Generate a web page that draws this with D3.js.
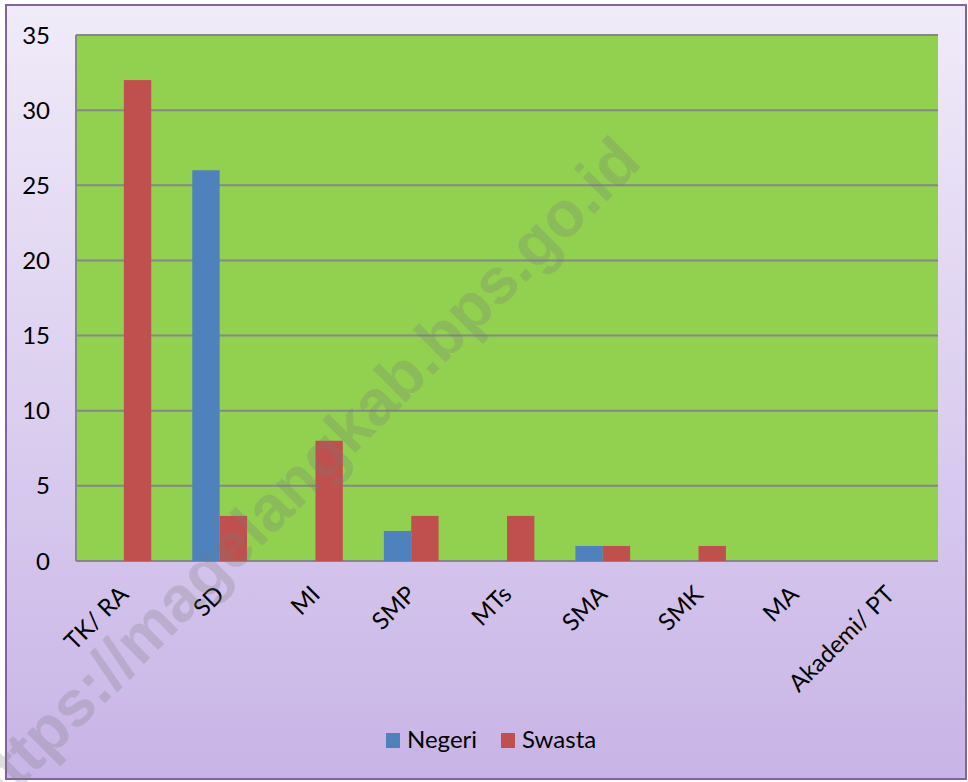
<!DOCTYPE html>
<html>
  <head>
    <meta charset="utf-8" />
    <script src="https://d3js.org/d3.v7.min.js"></script>
    <style>
        body {
          margin: 0;
          background: #fff;
        }
        text {
          font-family: Lato, "Open Sans", sans-serif;
        }
      </style>
  </head>
  <body>

    <svg id="viz"></svg>

      <script>
        var categories = ["TK/ RA", "SD", "MI", "SMP", "MTs", "SMA", "SMK", "MA", "Akademi/ PT"];
        var seriesNames = ["Negeri", "Swasta"];
        var negeri = [0, 26, 0, 2, 0, 1, 0, 0, 0];
        var swasta = [32, 3, 8, 3, 3, 1, 1, 0, 0];
        var yTicks = [0, 5, 10, 15, 20, 25, 30, 35];
        var colors = ["#4F81BD", "#C0504D"];

        var width = 968, height = 782;
        var plot = {left: 76, right: 938, top: 35, bottom: 561};

        var svg = d3.select("#viz")
            .attr("width", width)
            .attr("height", height);

        var defs = svg.append("defs");
        var grad = defs.append("linearGradient")
            .attr("id", "bg")
            .attr("x1", 0).attr("y1", 0).attr("x2", 0).attr("y2", 1);
        grad.append("stop").attr("offset", "0%").attr("stop-color", "#F0EBF9");
        grad.append("stop").attr("offset", "100%").attr("stop-color", "#C8B4E6");

        // chart frame
        svg.append("rect")
            .attr("x", 6).attr("y", 5)
            .attr("width", 960).attr("height", 774)
            .attr("fill", "url(#bg)")
            .attr("stroke", "#8064A2")
            .attr("stroke-width", 2);

        var x0 = d3.scaleBand()
            .domain(categories)
            .range([plot.left, plot.right]);

        // excel style gap width 150%
        var barW = x0.bandwidth() / 3.5;

        var y = d3.scaleLinear()
            .domain([0, 35])
            .range([plot.bottom, plot.top]);

        svg.append("rect")
            .attr("x", plot.left).attr("y", plot.top)
            .attr("width", plot.right - plot.left)
            .attr("height", plot.bottom - plot.top)
            .attr("fill", "#92D050");

        svg.append("g").selectAll("line")
            .data(yTicks)
            .enter().append("line")
            .attr("x1", plot.left).attr("x2", plot.right)
            .attr("y1", function(d) { return y(d); })
            .attr("y2", function(d) { return y(d); })
            .attr("stroke", "#878787")
            .attr("stroke-width", 2);

        svg.append("line")
            .attr("x1", plot.left).attr("x2", plot.left)
            .attr("y1", plot.top).attr("y2", plot.bottom)
            .attr("stroke", "#878787")
            .attr("stroke-width", 2);

        var series = [negeri, swasta];
        series.forEach(function(vals, s) {
            svg.append("g").selectAll("rect")
                .data(vals)
                .enter().append("rect")
                .attr("x", function(d, i) {
                    return x0(categories[i]) + x0.bandwidth() / 2 - barW + s * barW;
                })
                .attr("y", function(d) { return y(d); })
                .attr("width", barW)
                .attr("height", function(d) { return y(0) - y(d); })
                .attr("fill", colors[s]);
        });

        // y labels
        svg.append("g").selectAll("text")
            .data(yTicks)
            .enter().append("text")
            .attr("x", 50)
            .attr("y", function(d) { return y(d); })
            .attr("dy", "0.36em")
            .attr("text-anchor", "end")
            .attr("font-size", 24)
            .text(function(d) { return d; });

        // x labels
        svg.append("g").selectAll("text")
            .data(categories)
            .enter().append("text")
            .attr("transform", function(d) {
                return "translate(" + (x0(d) + x0.bandwidth() / 2 + 6) + "," + 596 + ") rotate(-45)";
            })
            .attr("text-anchor", "end")
            .attr("font-size", 24)
            .text(function(d) { return d; });

        // legend
        var legend = svg.append("g");
        var lx = [386, 501];
        seriesNames.forEach(function(n, i) {
            legend.append("rect")
                .attr("x", lx[i]).attr("y", 733)
                .attr("width", 14).attr("height", 15)
                .attr("fill", colors[i]);
            legend.append("text")
                .attr("x", lx[i] + 21).attr("y", 748)
                .attr("font-size", 24)
                .text(n);
        });

        // watermark
        svg.append("text")
            .attr("transform", "translate(-10,818) rotate(-45)")
            .attr("font-weight", "bold")
            .attr("font-size", 64)
            .attr("fill", "#777")
            .attr("fill-opacity", 0.25)
            .style("font-family", "'Liberation Sans', Arial, sans-serif")
            .text("https://magelangkab.bps.go.id");

      </script>

  </body>
</html>
